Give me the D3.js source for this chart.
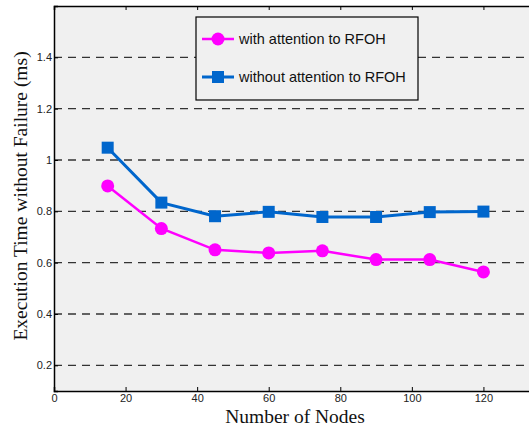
<!DOCTYPE html>
<html>
<head>
<meta charset="utf-8">
<script src="https://cdn.jsdelivr.net/npm/d3@7"></script>
<style>
body { margin: 0; background: #fff; }
svg { display: block; }
.tick text { font-family: "Liberation Sans Narrow", "Liberation Sans", Arial, sans-serif; font-size: 11px; fill: #222; }
</style>
</head>
<body>
<script>
// data
var nodes = [15, 30, 45, 60, 75, 90, 105, 120];
var withAttention = [0.899, 0.733, 0.650, 0.638, 0.646, 0.612, 0.612, 0.564];
var withoutAttention = [1.048, 0.834, 0.781, 0.798, 0.778, 0.778, 0.797, 0.799];
var xTicks = [0, 20, 40, 60, 80, 100, 120];
var yTicks = [0.2, 0.4, 0.6, 0.8, 1.0, 1.2, 1.4];
var seriesNames = ["with attention to RFOH", "without attention to RFOH"];

var width = 529,
    height = 430;

var margin = {left: 54, top: 6, bottom: 391, right: 555};

var svg = d3.select("body")
    .append("svg")
    .attr("width", width)
    .attr("height", height);

var x = d3.scaleLinear()
    .domain([0, 140])
    .range([margin.left, margin.right]);

var y = d3.scaleLinear()
    .domain([0.1, 1.6])
    .range([margin.bottom, margin.top]);

//plot background
svg.append("rect")
    .attr("x", margin.left)
    .attr("y", margin.top)
    .attr("width", margin.right - margin.left)
    .attr("height", margin.bottom - margin.top)
    .attr("fill", "#f0f0f0");

//dashed grid lines
svg.selectAll(".grid")
    .data(yTicks)
    .enter()
    .append("line")
    .attr("class", "grid")
    .attr("x1", margin.left)
    .attr("x2", margin.right)
    .attr("y1", function(d){ return y(d); })
    .attr("y2", function(d){ return y(d); })
    .attr("stroke", "#333")
    .attr("stroke-width", 1.4)
    .attr("stroke-dasharray", "8,6");

//axes, ticks pointing inward
var xAxis = svg.append("g")
    .attr("transform", "translate(0," + margin.bottom + ")")
    .call(d3.axisBottom(x).tickValues(xTicks).tickSize(-4).tickPadding(3).tickFormat(d3.format("d")));

var xTop = svg.append("g")
    .attr("transform", "translate(0," + margin.top + ")")
    .call(d3.axisTop(x).tickValues(xTicks).tickSize(-4).tickFormat(""));

var yAxis = svg.append("g")
    .attr("transform", "translate(" + margin.left + ",0)")
    .call(d3.axisLeft(y).tickValues(yTicks).tickSize(-4).tickPadding(2)
        .tickFormat(function(d){ return d === 1 ? "1" : d3.format(".1f")(d); }));

[xAxis, xTop, yAxis].forEach(function(g){
    g.select(".domain").attr("stroke", "#000").attr("stroke-width", 1.5);
    g.selectAll(".tick line").attr("stroke", "#000");
});

//series lines and markers
var line = d3.line()
    .x(function(d, i){ return x(nodes[i]); })
    .y(function(d){ return y(d); });

var magenta = "#ff00ff",
    blue = "#0066cc";

svg.append("path")
    .datum(withoutAttention)
    .attr("d", line)
    .attr("fill", "none")
    .attr("stroke", blue)
    .attr("stroke-width", 3);

svg.selectAll(".sq")
    .data(withoutAttention)
    .enter()
    .append("rect")
    .attr("class", "sq")
    .attr("x", function(d, i){ return x(nodes[i]) - 6; })
    .attr("y", function(d){ return y(d) - 6; })
    .attr("width", 12)
    .attr("height", 12)
    .attr("fill", blue);

svg.append("path")
    .datum(withAttention)
    .attr("d", line)
    .attr("fill", "none")
    .attr("stroke", magenta)
    .attr("stroke-width", 2.5);

svg.selectAll(".dot")
    .data(withAttention)
    .enter()
    .append("circle")
    .attr("class", "dot")
    .attr("cx", function(d, i){ return x(nodes[i]); })
    .attr("cy", function(d){ return y(d); })
    .attr("r", 6.5)
    .attr("fill", magenta);

//legend
var legend = svg.append("g");
legend.append("rect")
    .attr("x", 196)
    .attr("y", 17)
    .attr("width", 222)
    .attr("height", 83)
    .attr("fill", "#f0f0f0")
    .attr("stroke", "#000")
    .attr("stroke-width", 1.2);

var legendRows = [
    {name: seriesNames[0], color: magenta, shape: "circle", y: 39},
    {name: seriesNames[1], color: blue, shape: "square", y: 77}
];

legendRows.forEach(function(r){
    legend.append("line")
        .attr("x1", 202).attr("x2", 234)
        .attr("y1", r.y).attr("y2", r.y)
        .attr("stroke", r.color)
        .attr("stroke-width", r.shape === "circle" ? 2.5 : 3);
    if (r.shape === "circle") {
        legend.append("circle")
            .attr("cx", 218).attr("cy", r.y).attr("r", 6.5)
            .attr("fill", r.color);
    } else {
        legend.append("rect")
            .attr("x", 212).attr("y", r.y - 6)
            .attr("width", 12).attr("height", 12)
            .attr("fill", r.color);
    }
    legend.append("text")
        .attr("x", 239)
        .attr("y", r.y)
        .attr("dy", "0.35em")
        .attr("font-family", "Liberation Sans, Arial, sans-serif")
        .attr("font-size", 14.5)
        .attr("fill", "#111")
        .text(r.name);
});

//axis titles
svg.append("text")
    .attr("x", 295)
    .attr("y", 423)
    .attr("text-anchor", "middle")
    .attr("font-family", "Liberation Serif, Times New Roman, serif")
    .attr("font-size", 19.5)
    .attr("fill", "#111")
    .text("Number of Nodes");

svg.append("text")
    .attr("transform", "translate(27,196) rotate(-90)")
    .attr("text-anchor", "middle")
    .attr("font-family", "Liberation Serif, Times New Roman, serif")
    .attr("font-size", 19.5)
    .attr("fill", "#111")
    .text("Execution Time without Failure (ms)");
</script>
</body>
</html>
